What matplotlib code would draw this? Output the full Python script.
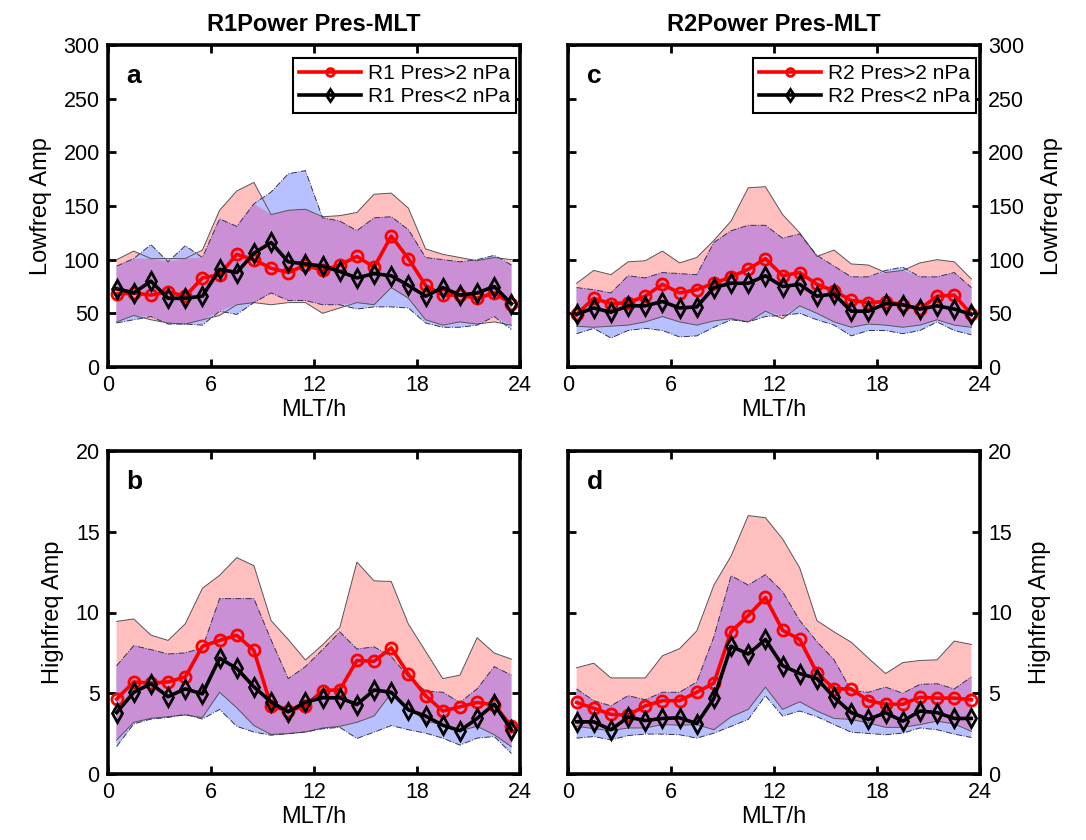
import matplotlib
matplotlib.use("Agg")
import matplotlib.pyplot as plt
import numpy as np

plt.rcParams['font.family'] = ['Liberation Sans', 'DejaVu Sans']

hours = [h + 0.5 for h in range(24)]

# Panel a: R1 low-frequency
a_red = [68, 69, 67, 70, 66, 83, 86, 105, 100, 92, 88, 95, 90, 95, 103, 93, 122, 101, 76, 67, 67, 64, 69, 59]
a_blk = [73, 69, 80, 64, 64, 66, 91, 88, 106, 116, 98, 96, 94, 89, 83, 87, 85, 76, 66, 74, 67, 69, 75, 59]
a_pink_up = [100, 108, 101, 101, 101, 109, 146, 164, 172, 142, 146, 147, 140, 141, 144, 161, 162, 148, 110, 105, 102, 99, 102, 100]
a_pink_lo = [42, 48, 44, 41, 40, 44, 48, 58, 60, 58, 60, 60, 50, 55, 60, 58, 74, 64, 44, 39, 42, 40, 42, 39]
a_blue_up = [94, 101, 114, 98, 113, 102, 138, 131, 152, 163, 180, 183, 139, 136, 127, 139, 140, 128, 102, 100, 98, 100, 104, 95]
a_blue_lo = [41, 44, 47, 40, 40, 39, 52, 49, 60, 69, 62, 62, 58, 58, 54, 56, 56, 55, 41, 37, 37, 39, 47, 35]

# Panel b: R1 high-frequency
b_red = [4.64, 5.70, 5.63, 5.70, 6.01, 7.91, 8.27, 8.59, 7.65, 4.22, 3.90, 4.22, 5.17, 5.21, 7.03, 6.98, 7.81, 6.18, 4.85, 3.90, 4.16, 4.43, 4.28, 2.95]
b_blk = [3.80, 5.06, 5.59, 4.79, 5.27, 4.96, 7.17, 6.54, 5.40, 4.46, 3.85, 4.45, 4.72, 4.72, 4.30, 5.20, 5.06, 3.97, 3.59, 3.02, 2.68, 3.44, 4.32, 2.74]
b_pink_up = [9.45, 9.6, 8.6, 8.27, 9.3, 11.5, 12.3, 13.4, 12.9, 9.5, 8.33, 7.06, 8.0, 9.07, 13.12, 11.96, 11.92, 9.28, 7.6, 5.91, 6.12, 8.44, 7.49, 7.11]
b_pink_lo = [2.1, 3.2, 3.45, 3.55, 3.65, 3.5, 5.06, 4.1, 3.0, 2.45, 2.5, 2.6, 2.85, 2.95, 3.2, 3.59, 5.0, 4.11, 3.27, 3.06, 2.68, 2.95, 2.43, 1.69]
b_blue_up = [6.7, 7.95, 7.7, 7.43, 7.5, 7.8, 10.86, 10.86, 10.86, 8.3, 5.9, 6.65, 7.7, 8.8, 7.74, 7.87, 7.28, 6.01, 5.13, 5.06, 4.43, 5.27, 6.65, 6.12]
b_blue_lo = [1.7, 3.1, 3.4, 3.5, 3.7, 3.4, 4.0, 2.95, 2.6, 2.4, 2.5, 2.6, 2.8, 2.89, 2.2, 2.59, 3.0, 2.74, 2.53, 2.22, 1.79, 2.22, 2.32, 1.27]

# Panel c: R2 low-frequency
c_red = [49, 64, 59, 60, 66, 77, 69, 72, 78, 84, 91, 101, 85, 88, 77, 71, 62, 60, 61, 58, 54, 66, 67, 49]
c_blk = [49, 55, 51, 57, 57, 61, 55, 56, 74, 78, 78, 85, 75, 77, 66, 68, 52, 52, 59, 58, 54, 57, 54, 49]
c_pink_up = [78, 90, 86, 98, 99, 108, 97, 102, 118, 136, 167, 168, 142, 125, 103, 109, 96, 95, 88, 90, 97, 100, 98, 82]
c_pink_lo = [38, 37, 38, 39, 42, 47, 42, 39, 43, 45, 42, 52, 45, 57, 50, 42, 37, 40, 39, 37, 39, 44, 39, 37]
c_blue_up = [74, 72, 69, 85, 83, 88, 87, 86, 116, 127, 132, 132, 120, 124, 104, 94, 84, 84, 90, 93, 84, 84, 88, 74]
c_blue_lo = [31, 36, 27, 34, 36, 34, 28, 29, 37, 44, 42, 47, 48, 50, 44, 39, 29, 34, 34, 31, 34, 42, 34, 30]

# Panel d: R2 high-frequency
d_red = [4.43, 4.07, 3.69, 3.65, 4.22, 4.54, 4.54, 5.06, 5.63, 8.82, 9.81, 10.93, 8.9, 8.33, 6.27, 5.27, 5.27, 4.54, 4.32, 4.32, 4.75, 4.70, 4.70, 4.60]
d_blk = [3.23, 3.23, 2.74, 3.52, 3.31, 3.44, 3.48, 3.12, 4.68, 7.91, 7.43, 8.33, 6.71, 6.22, 5.91, 4.75, 3.80, 3.38, 3.80, 3.27, 3.90, 3.80, 3.44, 3.44]
d_pink_up = [6.58, 6.86, 5.95, 5.95, 5.95, 7.32, 7.76, 8.86, 11.7, 13.5, 16.0, 15.87, 14.56, 12.76, 9.5, 8.8, 8.16, 7.17, 6.22, 6.9, 7.03, 7.07, 8.23, 8.02]
d_pink_lo = [2.95, 2.81, 2.68, 2.85, 2.85, 3.06, 3.02, 3.06, 2.74, 3.54, 4.0, 5.38, 4.0, 4.47, 3.9, 3.44, 3.38, 3.16, 2.89, 2.89, 3.06, 3.27, 3.10, 2.64]
d_blue_up = [5.27, 4.54, 4.22, 4.85, 4.60, 5.06, 5.06, 5.7, 8.5, 12.28, 11.7, 12.34, 11.29, 9.5, 8.2, 7.07, 5.17, 5.06, 5.38, 5.0, 5.55, 5.59, 5.27, 6.01]
d_blue_lo = [2.22, 2.32, 2.11, 2.38, 2.47, 2.47, 2.43, 2.22, 2.53, 2.95, 3.38, 4.85, 3.59, 3.9, 3.55, 3.06, 2.59, 2.51, 2.43, 2.53, 2.85, 2.74, 2.47, 2.26]

xticks = [0, 6, 12, 18, 24]

PINK = '#ffbfbf'
BLUE = '#b8c0ff'
PURPLE = '#cb8fd5'

W, H = 1086, 840
fig = plt.figure(figsize=(W / 100, H / 100), dpi=100)


def make_ax(x0, y0, x1, y1):
    return fig.add_axes([x0 / W, 1 - y1 / H, (x1 - x0) / W, (y1 - y0) / H])


ax_a = make_ax(108, 45, 520, 367)
ax_c = make_ax(568, 45, 980, 367)
ax_b = make_ax(108, 451, 520, 774)
ax_d = make_ax(568, 451, 980, 774)


def draw(ax, red, blk, pu, pl, bu, bl, ylim, yticks, letter, ylabel, right, legend_prefix=None):
    x = np.array(hours)
    pu_, pl_, bu_, bl_ = map(np.asarray, (pu, pl, bu, bl))
    ax.fill_between(x, pl_, pu_, facecolor=PINK, edgecolor='none', zorder=1)
    ax.fill_between(x, bl_, bu_, facecolor=BLUE, edgecolor='none', zorder=2)
    lo = np.maximum(pl_, bl_)
    hi = np.minimum(pu_, bu_)
    ax.fill_between(x, lo, hi, where=hi > lo, interpolate=True,
                    facecolor=PURPLE, edgecolor='none', zorder=3)
    ax.plot(x, pu_, color='#555555', lw=0.7, zorder=4)
    ax.plot(x, pl_, color='#555555', lw=0.7, zorder=4)
    ax.plot(x, bu_, color='#333355', lw=0.7, ls='-.', zorder=4)
    ax.plot(x, bl_, color='#333355', lw=0.7, ls='-.', zorder=4)
    l1, = ax.plot(x, red, color='#ff0000', lw=2.6, marker='o', ms=8, mfc='none',
                  mec='#ff0000', mew=2.0, zorder=6)
    l2, = ax.plot(x, blk, color='black', lw=2.6, marker='d', ms=9, mfc='none',
                  mec='black', mew=2.0, zorder=7)
    ax.set_xlim(0, 24)
    ax.set_ylim(*ylim)
    ax.set_xticks(xticks)
    ax.set_yticks(yticks)
    ax.tick_params(direction='in', length=6, width=2, labelsize=15.5, top=True, right=True,
                   left=True, bottom=True, pad=6)
    if right:
        ax.yaxis.tick_right()
        ax.tick_params(axis='y', left=True, right=True, labelleft=False, labelright=True)
        ax.yaxis.set_label_position('right')
        ax.set_ylabel(ylabel, fontsize=17, labelpad=12)
    else:
        ax.set_ylabel(ylabel, fontsize=17, labelpad=8)
    for s in ax.spines.values():
        s.set_linewidth(2.6)
    ax.set_xlabel('MLT/h', fontsize=17, labelpad=2)
    ax.text(0.045, 0.905, letter, transform=ax.transAxes, fontsize=19, fontweight='bold',
            va='center', ha='left')
    if legend_prefix:
        leg = ax.legend([l1, l2], [legend_prefix + ' Pres>2 nPa', legend_prefix + ' Pres<2 nPa'],
                        loc='upper right', bbox_to_anchor=(0.99, 0.96), borderaxespad=0,
                        fontsize=15, frameon=True, fancybox=False,
                        borderpad=0.3, handlelength=3.0, handletextpad=0.3, labelspacing=0.2,
                        markerscale=0.7, framealpha=1)
        leg.get_frame().set_edgecolor('black')
        leg.get_frame().set_linewidth(1.5)
        leg.set_zorder(10)


draw(ax_a, a_red, a_blk, a_pink_up, a_pink_lo, a_blue_up, a_blue_lo, (0, 300),
     [0, 50, 100, 150, 200, 250, 300], 'a', 'Lowfreq Amp', False, 'R1')
draw(ax_c, c_red, c_blk, c_pink_up, c_pink_lo, c_blue_up, c_blue_lo, (0, 300),
     [0, 50, 100, 150, 200, 250, 300], 'c', 'Lowfreq Amp', True, 'R2')
draw(ax_b, b_red, b_blk, b_pink_up, b_pink_lo, b_blue_up, b_blue_lo, (0, 20),
     [0, 5, 10, 15, 20], 'b', 'Highfreq Amp', False)
draw(ax_d, d_red, d_blk, d_pink_up, d_pink_lo, d_blue_up, d_blue_lo, (0, 20),
     [0, 5, 10, 15, 20], 'd', 'Highfreq Amp', True)

ax_a.set_title('R1Power Pres-MLT', fontsize=17, fontweight='bold', pad=10)
ax_c.set_title('R2Power Pres-MLT', fontsize=17, fontweight='bold', pad=10)

fig.savefig('out.png', dpi=100)
